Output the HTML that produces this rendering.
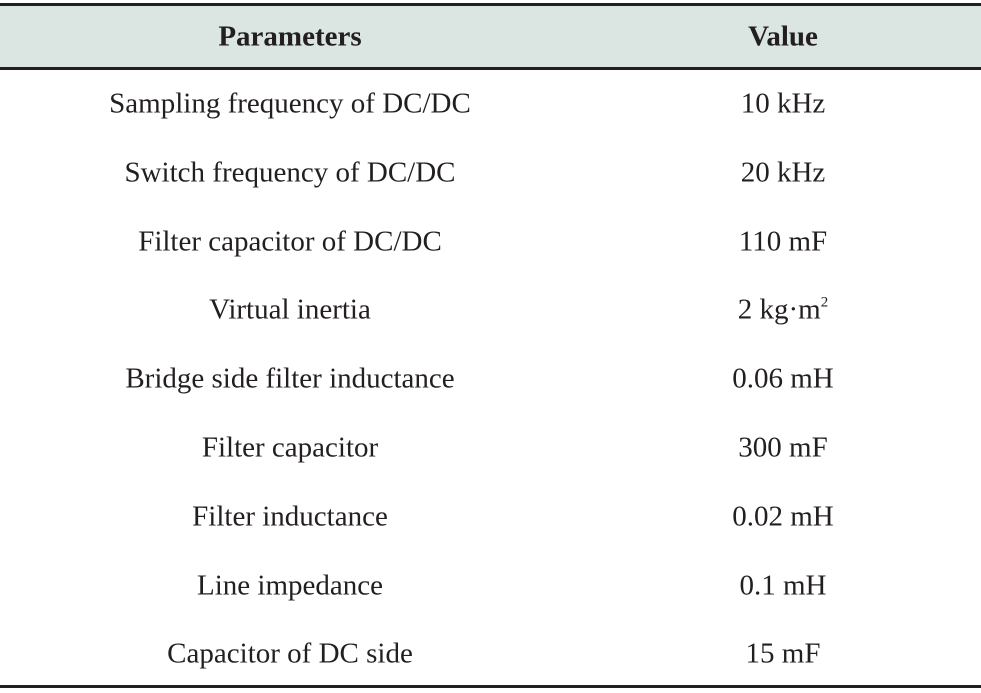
<!DOCTYPE html>
<html><head><meta charset="utf-8"><style>
body{margin:0;width:981px;height:693px;background:#fff;position:relative;font-family:"Liberation Serif",serif;color:#231f20;overflow:hidden}
.line{position:absolute;left:0;width:981px;background:#231f20}
.hdr{position:absolute;left:0;top:5px;width:981px;height:62px;background:#dbe5e1}
.c{position:absolute;font-size:29px;white-space:nowrap;transform:translate(-50%,-50%);line-height:1}
.b{font-weight:bold}
</style></head><body>
<div class="hdr"></div>
<div class="line" style="top:3px;height:3px"></div>
<div class="line" style="top:67px;height:3px"></div>
<div class="line" style="top:685px;height:3px"></div>
<div class="c b" style="left:290px;top:37px">Parameters</div>
<div class="c b" style="left:783px;top:37px">Value</div>
<div id="rows"></div>
<script>
const params=["Sampling frequency of DC/DC","Switch frequency of DC/DC","Filter capacitor of DC/DC","Virtual inertia","Bridge side filter inductance","Filter capacitor","Filter inductance","Line impedance","Capacitor of DC side"];
const values=["10 kHz","20 kHz","110 mF","2 kg·m<sup style='font-size:15px;vertical-align:12px'>2</sup>","0.06 mH","300 mF","0.02 mH","0.1 mH","15 mF"];
const rows=document.getElementById('rows');
params.forEach((p,i)=>{
 const y=104+i*68.8;
 const a=document.createElement('div');a.className='c';a.style.left='290px';a.style.top=y+'px';a.textContent=p;
 
 
 const b=document.createElement('div');b.className='c';b.style.left='783px';b.style.top=y+'px';b.innerHTML=values[i];
 
 
 rows.appendChild(a);rows.appendChild(b);
});
</script>
</body></html>
